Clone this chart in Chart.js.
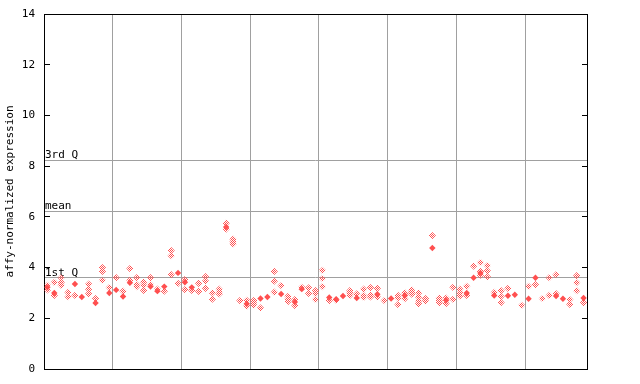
<!DOCTYPE html>
<html><head><meta charset="utf-8">
<script src="https://cdn.jsdelivr.net/npm/chart.js@4/dist/chart.umd.min.js"></script>
<style>html,body{margin:0;padding:0;background:#fff}canvas{display:block}</style>
</head><body>
<canvas id="c" width="640" height="384"></canvas>
<script>
// replicate measurements per sample (checkered diamonds)
const replicateValues = [
  [3.3,3.12],[3.42,2.9],[3.6,3.42,3.3],[3.02,2.85],[2.9],[],[3.35,3.15,2.97],[2.78],[4.0,3.85,3.5],[3.21],
  [3.6],[3.07],[3.96,3.5],[3.6,3.33,3.25],[3.43,3.3,3.1],[3.6,3.33],[3.15],[3.07],[4.67,4.47,3.72],[3.38],
  [3.53,3.13],[3.1],[3.38,3.06],[3.64,3.47,3.18],[3.0,2.75],[3.15,3.05,2.96],[5.75,5.52],[5.12,5.02,4.93],[2.7],[2.71,2.48],
  [2.7,2.6,2.52],[2.41],[],[3.85,3.46,3.03],[3.29],[2.87,2.76,2.66],[2.74,2.5],[3.22],[3.2,2.98],[3.09,2.98,2.74],
  [3.89,3.57,3.25],[2.7],[2.72],[],[3.09,3.0,2.9],[2.96],[3.15,2.9,2.82],[3.21,2.92,2.84],[3.18,2.84],[2.7],
  [],[2.9,2.8,2.54],[3.0,2.77],[3.12,3.03,2.95],[3.0,2.84,2.69,2.57],[2.78,2.68],[5.26],[2.8,2.7,2.61],[2.8,2.58],[3.22,2.75],
  [3.15,3.0,2.88],[3.26,2.9],[4.06],[4.2,3.85,3.7],[4.08,3.87,3.64],[3.02],[3.09,2.86,2.62],[3.18],[],[2.51],
  [3.26],[3.33],[2.78],[3.6,2.9],[3.72,2.97],[],[2.74,2.55],[3.68,3.41,3.09],[2.62]
];
// highlighted sample values (solid diamonds), null where absent
const sampleValues = [
  3.22,3.0,null,null,3.35,2.84,null,2.6,null,3.0,
  3.12,2.86,3.4,null,null,3.25,3.07,3.25,null,3.79,
  3.42,3.22,null,null,null,null,5.6,null,null,2.57,
  null,2.78,2.84,null,2.96,null,2.64,3.15,null,null,
  null,2.82,2.75,2.88,null,2.8,null,null,2.95,null,
  2.78,null,2.9,null,null,null,4.77,null,2.71,null,
  null,3.0,3.6,3.79,null,2.9,null,2.89,2.93,null,
  2.77,3.6,null,null,2.88,2.77,null,null,2.8
];
const yTicks = [0,2,4,6,8,10,12,14];
const groupBoundaries = [10,20,30,40,50,60,70];
const quartileValues = [3.6, 6.21, 8.22];
const quartileLabels = ['1st Q','mean','3rd Q'];
const sampleCount = 79;

const RED = '#ff4f4f';
function checker(color){
  const c=document.createElement('canvas'); c.width=2; c.height=2;
  const g=c.getContext('2d'); g.fillStyle=color; g.fillRect(0,0,1,1); g.fillRect(1,1,1,1);
  return g.createPattern(c,'repeat');
}
const repPoints = [];
replicateValues.forEach((arr,i)=>arr.forEach(v=>repPoints.push({x:i+0.5,y:v})));
const solidPoints = [];
sampleValues.forEach((v,i)=>{ if(v!==null) solidPoints.push({x:i+0.5,y:v}); });

const font = {family:'"DejaVu Sans Mono", monospace', size:11};
const setTicks = vals => s => { s.ticks = vals.map(v=>({value:v})); };
const noPad = s => { s.paddingTop = 0; s.paddingBottom = 0; s.paddingLeft = 0; s.paddingRight = 0; };

new Chart(document.getElementById('c'), {
  type:'scatter',
  data:{datasets:[
    {data:solidPoints, pointStyle:'rectRot', pointRadius:3.2, pointBorderWidth:0, pointBackgroundColor:RED, backgroundColor:RED},
    {data:repPoints, pointStyle:'rectRot', pointRadius:3.6, pointBorderWidth:0, pointBackgroundColor:checker(RED), backgroundColor:RED}
  ]},
  options:{
    responsive:false, animation:false, events:[],
    layout:{padding:{left:0,right:53,top:14,bottom:15}},
    plugins:{legend:{display:false}, tooltip:{enabled:false}},
    scales:{
      x:{type:'linear', min:0, max:sampleCount, afterBuildTicks:setTicks(groupBoundaries),
         ticks:{display:false}, grid:{color:'#a0a0a0', drawTicks:false}, border:{color:'#000'},
         afterFit:s=>{s.height=0; noPad(s);}},
      x2:{type:'linear', position:'top', min:0, max:sampleCount, ticks:{display:false},
         grid:{display:false, drawTicks:false}, border:{color:'#000'}, afterFit:s=>{s.height=0; noPad(s);}},
      y:{type:'linear', position:'left', weight:1, min:0, max:14, afterBuildTicks:setTicks(yTicks),
         ticks:{font, color:'#000', padding:15},
         grid:{drawOnChartArea:false, drawTicks:true, tickLength:-6, color:'#000'},
         border:{color:'#000'},
         title:{display:true, text:'affy-normalized expression', font, color:'#000', padding:{top:4,bottom:0}},
         afterFit:s=>{s.width=44; noPad(s);}},
      yq:{type:'linear', position:'left', weight:0, min:0, max:14, afterBuildTicks:setTicks(quartileValues),
         ticks:{mirror:true, padding:1, labelOffset:-5, callback:(v,i)=>quartileLabels[i], font, color:'#000'},
         grid:{color:'#a0a0a0', drawTicks:false}, border:{display:false},
         afterFit:s=>{s.width=0; noPad(s);}},
      y2:{type:'linear', position:'right', min:0, max:14, afterBuildTicks:setTicks(yTicks),
         ticks:{display:false}, grid:{drawOnChartArea:false, drawTicks:true, tickLength:-5, color:'#000'},
         border:{color:'#000'}, afterFit:s=>{s.width=0; noPad(s);}}
    }
  }
});
</script>
</body></html>
